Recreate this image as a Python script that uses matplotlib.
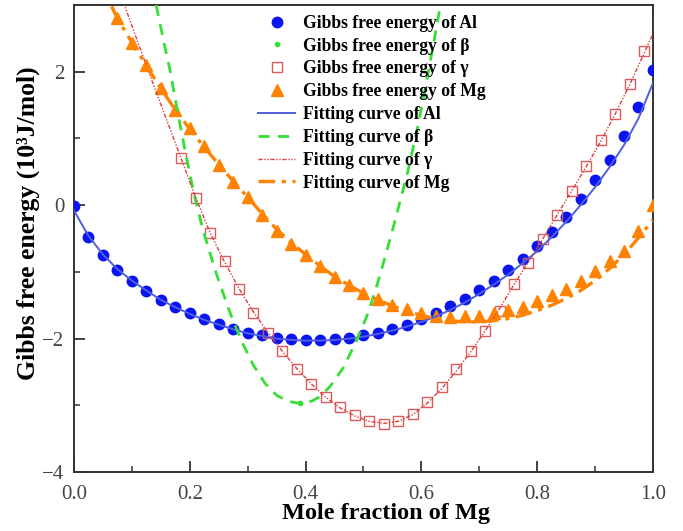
import matplotlib
matplotlib.use("Agg")
import matplotlib.pyplot as plt
import numpy as np

plt.rcParams['font.family'] = ['Liberation Serif', 'DejaVu Serif']

# ---------------- data ----------------
al_x = np.linspace(0.0, 1.0, 41)
al_g = [-0.02, -0.48, -0.74, -0.97, -1.13, -1.28, -1.42, -1.53, -1.62, -1.71,
        -1.78, -1.85, -1.91, -1.95, -1.99, -2.00, -2.02, -2.02, -2.00, -1.99,
        -1.94, -1.91, -1.85, -1.79, -1.71, -1.61, -1.51, -1.40, -1.27, -1.13,
        -0.97, -0.80, -0.61, -0.40, -0.17, 0.09, 0.37, 0.68, 1.03, 1.47, 2.02]
al_fit = [-0.08, -0.46, -0.74, -0.96, -1.13, -1.28, -1.42, -1.53, -1.63, -1.72,
          -1.79, -1.86, -1.92, -1.96, -2.00, -2.02, -2.03, -2.03, -2.02, -2.00,
          -1.97, -1.93, -1.88, -1.82, -1.75, -1.67, -1.57, -1.46, -1.33, -1.19,
          -1.04, -0.87, -0.69, -0.48, -0.25, 0.00, 0.27, 0.57, 0.90, 1.30, 1.83]

beta_x = [0.177, 0.390]
beta_g = [1.42, -2.96]
beta_fit_x = [0.142, 0.155, 0.166, 0.180, 0.192, 0.206, 0.223, 0.246, 0.269, 0.290,
              0.310, 0.330, 0.350, 0.370, 0.390, 0.410, 0.425, 0.442, 0.465, 0.488,
              0.506, 0.520, 0.535, 0.550, 0.563, 0.577, 0.592, 0.606, 0.620, 0.632]
beta_fit = [3.00, 2.45, 2.02, 1.35, 0.82, 0.22, -0.38, -1.03, -1.60, -2.05,
            -2.40, -2.67, -2.85, -2.94, -2.97, -2.94, -2.87, -2.72, -2.44, -2.03,
            -1.66, -1.30, -0.85, -0.38, 0.05, 0.52, 1.10, 1.72, 2.37, 2.95]

gamma_x = np.linspace(0.185, 1.01, 34)
gamma_g = [0.70, 0.11, -0.41, -0.84, -1.25, -1.61, -1.91, -2.19, -2.46, -2.68,
           -2.88, -3.03, -3.15, -3.24, -3.28, -3.24, -3.13, -2.95, -2.73, -2.45,
           -2.18, -1.89, -1.58, -1.18, -0.87, -0.50, -0.14, 0.21, 0.58, 0.97,
           1.37, 1.81, 2.31, 2.72]
gamma_fit_x = np.linspace(0.085, 1.01, 38)
gamma_fit = [3.05, 2.45, 1.86, 1.28, 0.70, 0.12, -0.41, -0.85, -1.25, -1.60,
             -1.91, -2.19, -2.45, -2.68, -2.88, -3.04, -3.16, -3.24, -3.27, -3.24,
             -3.14, -2.97, -2.75, -2.49, -2.20, -1.89, -1.55, -1.19, -0.85, -0.50,
             -0.14, 0.22, 0.58, 0.96, 1.37, 1.81, 2.28, 2.76]

mg_x = np.linspace(0.075, 1.0, 38)
mg_g = [2.80, 2.43, 2.10, 1.75, 1.42, 1.16, 0.88, 0.60, 0.35, 0.12,
        -0.15, -0.38, -0.58, -0.75, -0.91, -1.08, -1.20, -1.31, -1.41, -1.49,
        -1.56, -1.61, -1.66, -1.68, -1.66, -1.66, -1.62, -1.57, -1.52, -1.44,
        -1.35, -1.26, -1.13, -0.98, -0.83, -0.68, -0.38, 0.00]
mg_fit_x = np.concatenate([[0.065], mg_x])
mg_fit = [2.98, 2.80, 2.44, 2.09, 1.75, 1.43, 1.14, 0.87, 0.61, 0.36,
          0.12, -0.13, -0.36, -0.56, -0.74, -0.91, -1.07, -1.20, -1.32, -1.42,
          -1.51, -1.59, -1.65, -1.70, -1.73, -1.75, -1.75, -1.73, -1.70, -1.65,
          -1.58, -1.50, -1.40, -1.28, -1.13, -0.95, -0.74, -0.49, -0.22]

x_ticks = [0.0, 0.2, 0.4, 0.6, 0.8, 1.0]
x_ticklabels = ['0.0', '0.2', '0.4', '0.6', '0.8', '1.0']
y_ticks = [-4, -2, 0, 2]
y_ticklabels = ['\u22124', '\u22122', '0', '2']

# ---------------- figure ----------------
fig = plt.figure(figsize=(6.83, 5.31), dpi=100)
ax = fig.add_axes([0.1083, 0.111, 0.8477, 0.8796])

c_blue = '#0a14f0'
c_blue_line = '#4f5fe0'
c_green = '#35e035'
c_red = '#e05a5a'
c_red_line = '#e03c3c'
c_orange = '#ff8200'

ax.plot(al_x, al_g, 'o', color=c_blue, ms=7.5, mec=c_blue, ls='none',
        label='Gibbs free energy of Al', zorder=3)
ax.plot(beta_x, beta_g, 'o', color=c_green, ms=3, ls='none',
        label='Gibbs free energy of \u03b2', zorder=3)
ax.plot(gamma_x, gamma_g, 's', mfc='none', mec=c_red, mew=1.0, ms=6.5, ls='none',
        label='Gibbs free energy of \u03b3', zorder=3)
ax.plot(mg_x, mg_g, '^', color=c_orange, ms=8, ls='none',
        label='Gibbs free energy of Mg', zorder=3)

ax.plot(al_x, al_fit, '-', color=c_blue_line, lw=1.4,
        label='Fitting curve of Al', zorder=4)
ax.plot(beta_fit_x, beta_fit, color=c_green, lw=2.0, ls=(0, (4, 3)),
        label='Fitting curve of \u03b2', zorder=4)
ax.plot(gamma_fit_x, gamma_fit, color=c_red_line, lw=1.0, ls=(0, (3, 1.2, 1, 1.2, 1, 1.2)),
        label='Fitting curve of \u03b3', zorder=4)
ax.plot(mg_fit_x, mg_fit, color=c_orange, lw=2.4, ls=(0, (5, 2, 1.2, 2)),
        label='Fitting curve of Mg', zorder=4)

ax.set_xlim(0.0, 1.0)
ax.set_ylim(-4, 3)
ax.set_xticks(x_ticks)
ax.set_xticklabels(x_ticklabels)
ax.set_yticks(y_ticks)
ax.set_yticklabels(y_ticklabels)
ax.set_xticks([0.1, 0.3, 0.5, 0.7, 0.9], minor=True)
ax.set_yticks([-3, -1, 1], minor=True)
ax.tick_params(which='major', direction='in', length=8, width=1.3, labelsize=15,
               labelcolor='#444444', color='#333333')
ax.tick_params(axis='x', which='major', pad=9)
ax.tick_params(axis='y', which='major', pad=7)
ax.tick_params(which='minor', direction='in', length=4, width=1.1, color='#333333')
for s in ax.spines.values():
    s.set_linewidth(1.4)
    s.set_color('#333333')

ax.set_xlabel('Mole fraction of Mg', fontsize=17.5, fontweight='bold')
ax.xaxis.set_label_coords(0.539, -0.066)
ax.set_ylabel('Gibbs free energy (10\u00b3J/mol)', fontsize=18.5, fontweight='bold')
ax.yaxis.set_label_coords(-0.058, 0.532)

leg = ax.legend(loc='upper left', bbox_to_anchor=(0.318, 0.979), frameon=False,
                prop={'family': ['Liberation Serif', 'DejaVu Serif'], 'weight': 'bold', 'size': 12.7},
                handlelength=2.1, handletextpad=0.45, labelspacing=0.33,
                borderpad=0, borderaxespad=0, numpoints=1)

fig.savefig('out.png', dpi=100)
